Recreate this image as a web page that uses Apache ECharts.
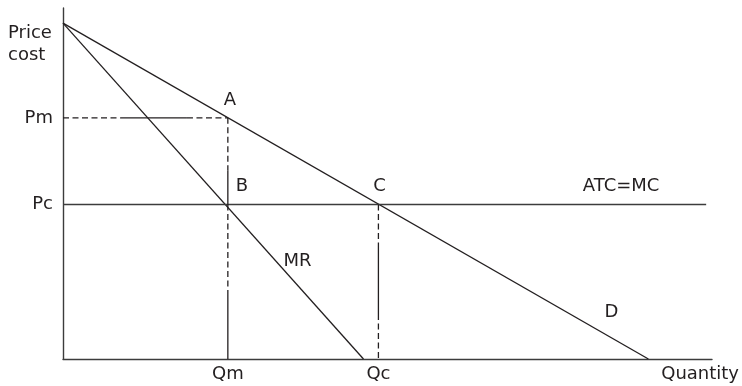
<!DOCTYPE html>
<html><head><meta charset="utf-8">
<script src="https://cdn.jsdelivr.net/npm/echarts@6/dist/echarts.min.js"></script>
<style>html,body{margin:0;padding:0;background:#fff}#c{width:742px;height:386px}</style>
</head><body><div id="c"></div>
<script>
// Values (economic units, axes 0..100)
const priceIntercept = 95.7;
const demandQtyIntercept = 90.2;
const mrQtyIntercept = 46.3;
const Qm = 25.4, Qc = 48.6;
const Pm = 68.7, Pc = 44.0;
const atcEnd = 99.1;
const priceTickLabels = ['Pm', 'Pc'];
const priceTickValues = [Pm, Pc];
const qtyTickLabels = ['Qm', 'Qc'];
const qtyTickValues = [Qm, Qc];
// breaks in the guide lines (as drawn in the reference)
const pmGuideBreaks = [0, 8.9, 19.1, Qm];          // dashed, solid, dashed
const qmGuideBreaks = [Pm, 53.8, Pc, 18.2, 0];     // dashed, solid, dashed, solid
const qcGuideBreaks = [Pc, 32.2, 12.8, 0];         // dashed, solid, dashed

const FONT = 'DejaVu Sans';
const TXT = '#231f20';
const LINE = '#231f20';
const DASH = [6, 3.5];

function line(data, type, color, width) {
  return { type: 'line', data: data, symbol: 'none', silent: true, animation: false,
    lineStyle: { color: color || LINE, width: width || 1.3, type: type || 'solid' } };
}
const series = [];
series.push(line([[0, priceIntercept], [demandQtyIntercept, 0]]));
series.push(line([[0, priceIntercept], [mrQtyIntercept, 0]]));
series.push(line([[0, Pc], [atcEnd, Pc]], 'solid', '#3c3c3c', 1.4));
for (let i = 0; i < pmGuideBreaks.length - 1; i++) {
  series.push(line([[pmGuideBreaks[i], Pm], [pmGuideBreaks[i + 1], Pm]], i % 2 === 0 ? DASH : 'solid'));
}
for (let i = 0; i < qmGuideBreaks.length - 1; i++) {
  series.push(line([[Qm, qmGuideBreaks[i]], [Qm, qmGuideBreaks[i + 1]]], i % 2 === 0 ? DASH : 'solid'));
}
for (let i = 0; i < qcGuideBreaks.length - 1; i++) {
  series.push(line([[Qc, qcGuideBreaks[i]], [Qc, qcGuideBreaks[i + 1]]], i % 2 === 0 ? DASH : 'solid'));
}

const mrLabelQ = 32.9;
const dLabelQ = 84.5;
const pointLabels = [
  { name: 'A', value: [Qm, Pm], offset: [2, -18] },
  { name: 'B', value: [Qm, Pc], offset: [14, -18] },
  { name: 'C', value: [Qc, Pc], offset: [1, -18] },
  { name: 'ATC=MC', value: [86, Pc], offset: [0, -18] },
  { name: 'MR', value: [mrLabelQ, priceIntercept * (1 - mrLabelQ / mrQtyIntercept)], offset: [21, 0] },
  { name: 'D', value: [dLabelQ, priceIntercept * (1 - dLabelQ / demandQtyIntercept)], offset: [0, -25] }
];
const labelStyle = { fontFamily: FONT, fontSize: 18, color: TXT, textBorderWidth: 0, opacity: 1 };
const scatterBase = { type: 'scatter', symbolSize: 0, silent: true, animation: false, itemStyle: { opacity: 1, color: TXT } };
series.push(Object.assign({}, scatterBase, {
  data: pointLabels.map(p => ({ name: p.name, value: p.value,
    label: Object.assign({ show: true, position: 'inside', offset: p.offset, formatter: '{b}' }, labelStyle) })) }));
series.push(Object.assign({}, scatterBase, {
  data: priceTickLabels.map((n, i) => ({ name: n, value: [0, priceTickValues[i]],
    label: Object.assign({ show: true, position: 'left', distance: 10, formatter: '{b}' }, labelStyle) })) }));
series.push(Object.assign({}, scatterBase, {
  data: qtyTickLabels.map((n, i) => ({ name: n, value: [qtyTickValues[i], 0],
    label: Object.assign({ show: true, position: 'bottom', distance: 6, formatter: '{b}' }, labelStyle) })) }));

const axisCommon = { type: 'value', min: 0, max: 100, splitLine: { show: false },
  axisTick: { show: false }, axisLabel: { show: false },
  axisLine: { show: true, lineStyle: { color: '#3c3c3c', width: 1.4 } } };

const chart = echarts.init(document.getElementById('c'), null, { renderer: 'canvas' });
chart.setOption({
  backgroundColor: '#fff',
  animation: false,
  grid: { left: 63, right: 29, top: 8, bottom: 27, containLabel: false },
  xAxis: Object.assign({}, axisCommon, { name: 'Quantity', nameLocation: 'end', nameGap: 27,
    nameTextStyle: { fontFamily: FONT, fontSize: 18, color: TXT, align: 'right', verticalAlign: 'top', padding: [6, 0, 0, 0] } }),
  yAxis: Object.assign({}, axisCommon),
  graphic: [{ type: 'text', left: 8, top: 22, style: { text: 'Price\ncost', fontFamily: FONT, fontSize: 18, lineHeight: 22, fill: TXT } }],
  series: series
});
</script></body></html>
